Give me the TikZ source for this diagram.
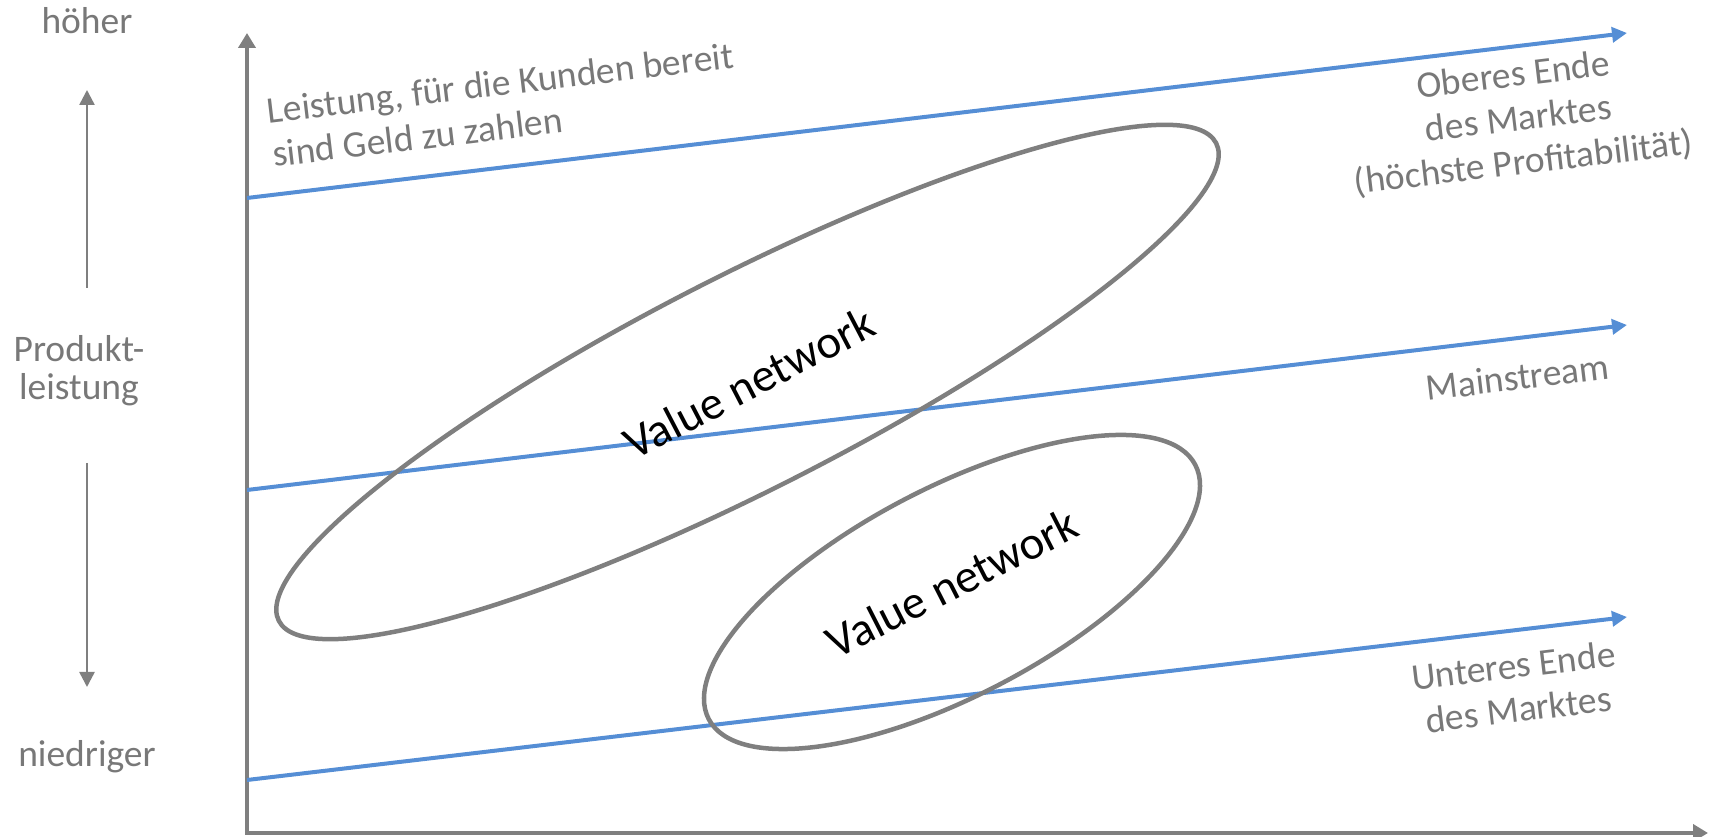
\documentclass[tikz,border=0pt]{standalone}
\usepackage{fontspec}
\setmainfont{Carlito}
\usetikzlibrary{arrows.meta,shapes.geometric}
\definecolor{axisgray}{RGB}{127,127,127}
\definecolor{textgray}{RGB}{120,120,120}
\definecolor{lineblue}{RGB}{85,142,213}
\begin{document}
\begin{tikzpicture}[x=1pt,y=1pt,
  axis/.style={draw=axisgray, line width=4pt, line join=miter,
    {Triangle[length=15pt,width=17pt]}-{Triangle[length=15pt,width=17pt]}},
  market/.style={draw=lineblue, line width=4pt, -{Triangle[length=15pt,width=15pt]}},
  hint/.style={draw=axisgray, line width=2.5pt, -{Triangle[length=15pt,width=15pt]}},
  sidelabel/.style={text=textgray, inner sep=0pt, font=\fontsize{37.5}{38}\selectfont},
  marketlabel/.style={text=textgray, inner sep=0pt, rotate=6.8, font=\fontsize{37.5}{44}\selectfont},
  ring/.style={ellipse, draw=axisgray, line width=4.5pt, inner sep=0pt},
  netlabel/.style={text=black, inner sep=0pt, font=\fontsize{47}{56}\selectfont}]
\useasboundingbox (0,0) rectangle (1714,837);

% axes
\coordinate (ytip) at (247,804);
\coordinate (origin) at (247,4);
\coordinate (xtip) at (1708,4);
\draw[axis] (ytip) -- (origin) -- (xtip);

% market tiers
\coordinate (hi-start) at (247,639);
\coordinate (hi-end) at (1627,804);
\coordinate (mid-start) at (247,347);
\coordinate (mid-end) at (1627,512);
\coordinate (lo-start) at (247,57);
\coordinate (lo-end) at (1627,220);
\draw[market] (hi-start) -- (hi-end);
\draw[market] (mid-start) -- (mid-end);
\draw[market] (lo-start) -- (lo-end);

% value networks
\node[ring, minimum width=1052pt, minimum height=214pt, rotate=27] (vn-up) at (747.5,455) {};
\node[ring, minimum width=549pt, minimum height=208pt, rotate=27.6] (vn-low) at (952,245) {};
\node[netlabel, rotate=27.5] (vn-up-text) at ([shift={(1.5,-1)}]vn-up.center) {Value network};
\node[netlabel, rotate=27] (vn-low-text) at ([shift={(0,9)}]vn-low.center) {Value network};

% performance scale on the left (multi-line nodes sit on their last baseline)
\node[sidelabel, anchor=base] (hoeher) at (87,803) {höher};
\node[sidelabel, anchor=base, align=center] (perf) at (79,437) {Produkt-\\leistung};
\node[sidelabel, anchor=base] (niedriger) at (87,70) {niedriger};
\coordinate (up-from) at (87,549);
\coordinate (up-to) at (87,747);
\coordinate (down-from) at (87,374);
\coordinate (down-to) at (87,150);
\draw[hint] (up-from) -- (up-to);
\draw[hint] (down-from) -- (down-to);

% tier labels
\node[marketlabel, anchor=base west, align=left] (wtp) at (274,670)
  {Leistung, für die Kunden bereit\\sind Geld zu zahlen};
\node[marketlabel, anchor=base, align=center] (high) at (1525,663)
  {Oberes Ende\\des Marktes\\(höchste Profitabilität)};
\node[marketlabel, anchor=base] (main) at (1519,447) {Mainstream};
\node[marketlabel, anchor=base, align=center] (low) at (1520,115)
  {Unteres Ende\\des Marktes};
\end{tikzpicture}
\end{document}
